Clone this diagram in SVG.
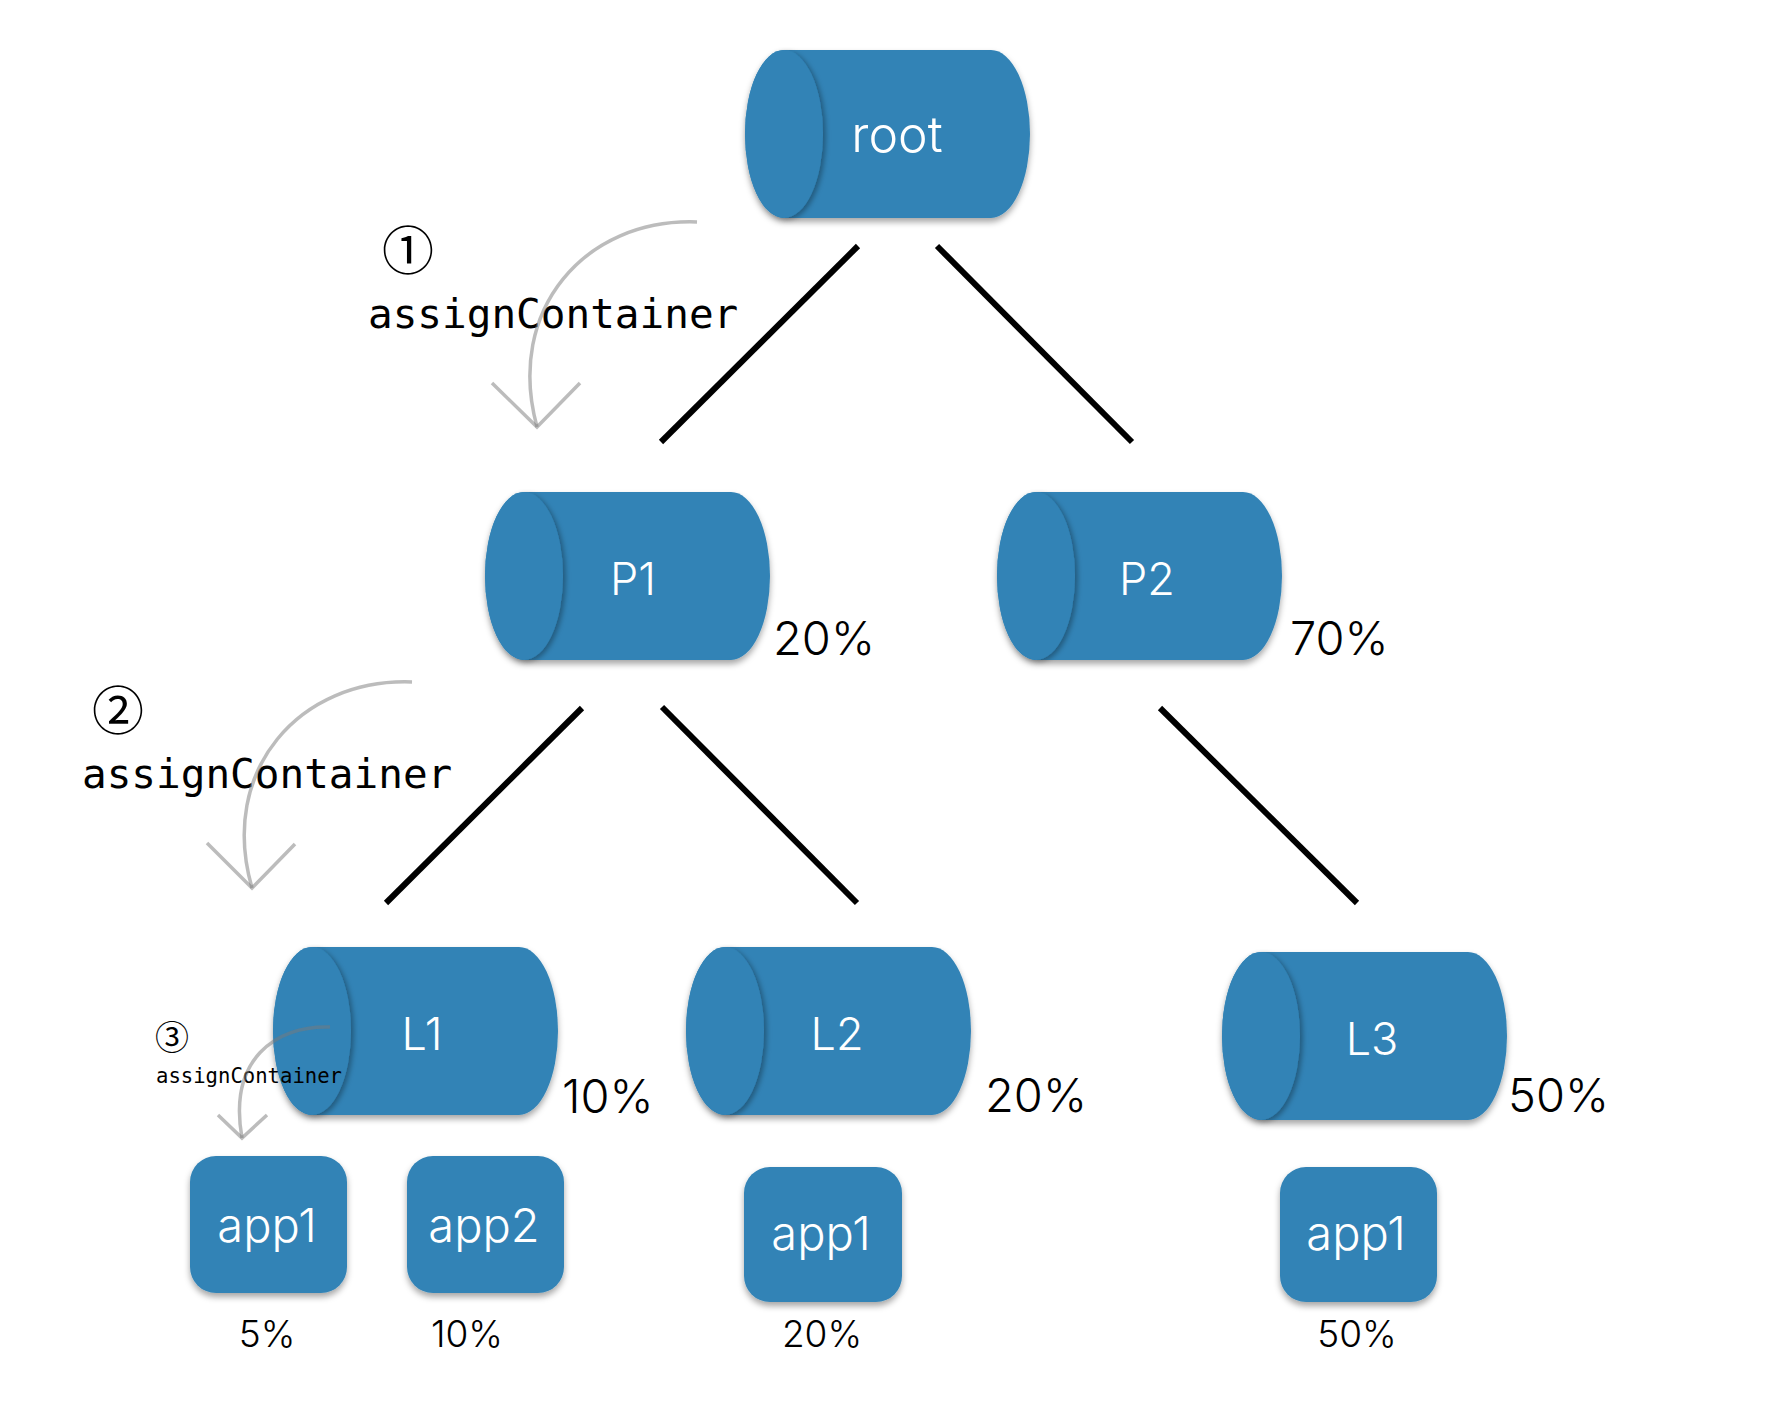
<svg xmlns="http://www.w3.org/2000/svg" xmlns:xlink="http://www.w3.org/1999/xlink" width="1770" height="1426" viewBox="0 0 1770 1426">
<style>
.shape{fill:#3283b6;filter:url(#sh)}
.cap{fill:#3283b6;filter:url(#capsh)}
.lbl{font-family:"Inter","Liberation Sans",Arial,sans-serif;font-weight:300;fill:#fff;text-anchor:middle}
.pct{font-family:"Inter","Liberation Sans",Arial,sans-serif;font-weight:300;fill:#000}
.edge{stroke:#000;stroke-width:6;fill:none}
.ann{stroke:#7a7a7a;stroke-opacity:0.5;fill:none;stroke-width:3.5}
.mono{font-family:"DejaVu Sans Mono","Liberation Mono",monospace;fill:#000}
.circ{font-family:"Noto Sans CJK JP","DejaVu Sans",sans-serif;fill:#000;text-anchor:middle}
</style>
<defs>
<filter id="sh" x="-10%" y="-10%" width="125%" height="130%">
<feDropShadow dx="0" dy="4" stdDeviation="3" flood-color="#000" flood-opacity="0.35"/>
</filter>
<filter id="capsh" x="-20%" y="-10%" width="150%" height="125%">
<feDropShadow dx="3" dy="2" stdDeviation="2.5" flood-color="#000" flood-opacity="0.3"/>
</filter>
<path id="cylBody" d="M39,0 H246 A39,84 0 0 1 246,168 H39 A39,84 0 0 1 39,0 Z"/>
<ellipse id="cylCap" cx="39" cy="84" rx="39" ry="84"/>
</defs>

<g id="connectors">
<line class="edge" x1="858" y1="246" x2="661" y2="442"/>
<line class="edge" x1="937" y1="246" x2="1132" y2="442"/>
<line class="edge" x1="582" y1="708" x2="386" y2="903"/>
<line class="edge" x1="662" y1="707" x2="857" y2="903"/>
<line class="edge" x1="1160" y1="708" x2="1357" y2="903"/>
</g>

<g id="node-root" transform="translate(745,50)">
<use xlink:href="#cylBody" class="shape"/>
<use xlink:href="#cylCap" class="cap"/>
<text class="lbl" x="152" y="102" font-size="50">root</text>
</g>

<g id="node-P1" transform="translate(485,492)">
<use xlink:href="#cylBody" class="shape"/>
<use xlink:href="#cylCap" class="cap"/>
<text class="lbl" x="148" y="103" font-size="45">P1</text>
<text class="pct" x="288" y="163" font-size="47">20%</text>
</g>

<g id="node-P2" transform="translate(997,492)">
<use xlink:href="#cylBody" class="shape"/>
<use xlink:href="#cylCap" class="cap"/>
<text class="lbl" x="150" y="103" font-size="45">P2</text>
<text class="pct" x="293" y="163" font-size="47">70%</text>
</g>

<g id="node-L1" transform="translate(273,947)">
<use xlink:href="#cylBody" class="shape"/>
<use xlink:href="#cylCap" class="cap"/>
<text class="lbl" x="149" y="103" font-size="45">L1</text>
<text class="pct" x="289" y="166" font-size="47">10%</text>
</g>

<g id="node-L2" transform="translate(686,947)">
<use xlink:href="#cylBody" class="shape"/>
<use xlink:href="#cylCap" class="cap"/>
<text class="lbl" x="151" y="103" font-size="45">L2</text>
<text class="pct" x="299" y="165" font-size="47">20%</text>
</g>

<g id="node-L3" transform="translate(1222,952)">
<use xlink:href="#cylBody" class="shape"/>
<use xlink:href="#cylCap" class="cap"/>
<text class="lbl" x="150" y="103" font-size="45">L3</text>
<text class="pct" x="286" y="160" font-size="47">50%</text>
</g>

<g id="node-L1-app1">
<rect class="shape" x="190" y="1156" width="157" height="137" rx="26"/>
<text class="lbl" x="267" y="1242" font-size="47">app1</text>
<text class="pct" x="267" y="1347" font-size="37" text-anchor="middle">5%</text>
</g>

<g id="node-L1-app2">
<rect class="shape" x="407" y="1156" width="157" height="137" rx="26"/>
<text class="lbl" x="484" y="1242" font-size="47">app2</text>
<text class="pct" x="467" y="1347" font-size="37" text-anchor="middle">10%</text>
</g>

<g id="node-L2-app1">
<rect class="shape" x="744" y="1167" width="158" height="135" rx="26"/>
<text class="lbl" x="821" y="1250" font-size="47">app1</text>
<text class="pct" x="822" y="1347" font-size="37" text-anchor="middle">20%</text>
</g>

<g id="node-L3-app1">
<rect class="shape" x="1280" y="1167" width="157" height="135" rx="26"/>
<text class="lbl" x="1356" y="1250" font-size="47">app1</text>
<text class="pct" x="1357" y="1347" font-size="37" text-anchor="middle">50%</text>
</g>

<g id="annotation-1">
<text class="circ" x="408" y="270" font-size="52">①</text>
<text class="mono" x="368" y="328" font-size="41">assignContainer</text>
<path class="ann" d="M697,222 C585,218 505,310 537,427"/>
<polyline class="ann" points="492,383 537,427 580,383"/>
</g>

<g id="annotation-2">
<text class="circ" x="118" y="730" font-size="52">②</text>
<text class="mono" x="82" y="788" font-size="41">assignContainer</text>
<path class="ann" d="M412,682 C300,678 218,770 252,888"/>
<polyline class="ann" points="207,843 252,888 295,844"/>
</g>

<g id="annotation-3">
<text class="circ" x="172" y="1050" font-size="34">③</text>
<text class="mono" x="156" y="1083" font-size="20.6">assignContainer</text>
<path class="ann" stroke-width="3" d="M330,1027 C275,1025 228,1060 242,1138"/>
<polyline class="ann" stroke-width="3" points="218,1115 242,1138 267,1115"/>
</g>
</svg>
